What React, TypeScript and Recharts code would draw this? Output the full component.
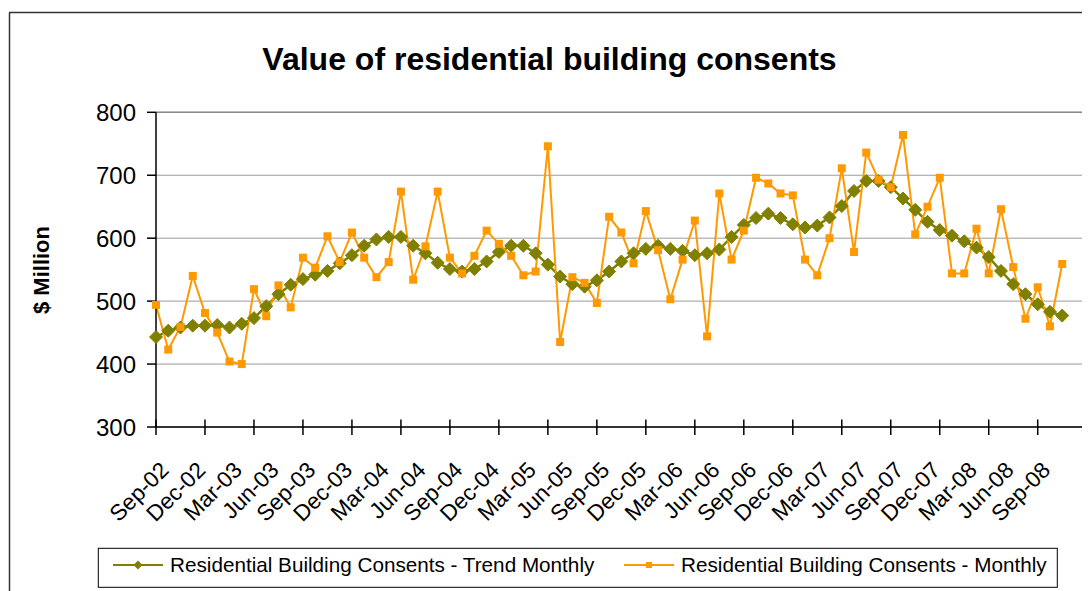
import {
  CartesianGrid,
  Line,
  LineChart,
  ReferenceLine,
  XAxis,
  YAxis,
} from "recharts";

const FONT = '"Liberation Sans", Arial, sans-serif';

// one label per month, Sep-02 .. Jan-09 (last two have no data)
const months = [
  "Sep-02", "Oct-02", "Nov-02", "Dec-02",
  "Jan-03", "Feb-03", "Mar-03", "Apr-03", "May-03", "Jun-03",
  "Jul-03", "Aug-03", "Sep-03", "Oct-03", "Nov-03", "Dec-03",
  "Jan-04", "Feb-04", "Mar-04", "Apr-04", "May-04", "Jun-04",
  "Jul-04", "Aug-04", "Sep-04", "Oct-04", "Nov-04", "Dec-04",
  "Jan-05", "Feb-05", "Mar-05", "Apr-05", "May-05", "Jun-05",
  "Jul-05", "Aug-05", "Sep-05", "Oct-05", "Nov-05", "Dec-05",
  "Jan-06", "Feb-06", "Mar-06", "Apr-06", "May-06", "Jun-06",
  "Jul-06", "Aug-06", "Sep-06", "Oct-06", "Nov-06", "Dec-06",
  "Jan-07", "Feb-07", "Mar-07", "Apr-07", "May-07", "Jun-07",
  "Jul-07", "Aug-07", "Sep-07", "Oct-07", "Nov-07", "Dec-07",
  "Jan-08", "Feb-08", "Mar-08", "Apr-08", "May-08", "Jun-08",
  "Jul-08", "Aug-08", "Sep-08", "Oct-08", "Nov-08", "Dec-08",
  "Jan-09",
];

const trend = [
  443, 453, 458, 461, 461, 462, 458, 464, 473, 492,
  511, 526, 535, 542, 548, 560, 573, 588, 598, 602,
  602, 588, 576, 561, 551, 547, 551, 563, 578, 588,
  588, 576, 558, 539, 527, 523, 533, 547, 563, 576,
  583, 588, 583, 580, 573, 576, 582, 602, 621, 632,
  639, 632, 622, 617, 620, 633, 651, 675, 691, 691,
  681, 663, 645, 626, 613, 604, 595, 585, 570, 548,
  527, 511, 495, 483, 477,
];

const monthly = [
  494, 423, 459, 540, 481, 450, 404, 400, 519, 476,
  525, 490, 569, 553, 603, 562, 609, 569, 538, 562,
  674, 534, 587, 674, 569, 544, 572, 612, 591, 572,
  541, 547, 746, 435, 538, 529, 497, 634, 609, 560,
  643, 581, 503, 566, 628, 444, 671, 566, 612, 696,
  687, 671, 668, 566, 541, 600, 711, 578, 736, 693,
  681, 764, 606, 650, 696, 544, 544, 615, 544, 646,
  554, 472, 522, 460, 559,
];

const yTicks = [300, 400, 500, 600, 700, 800];

const TREND_LABEL = "Residential Building Consents - Trend Monthly";
const MONTHLY_LABEL = "Residential Building Consents - Monthly";

const OLIVE = "#808000";
const ORANGE = "#FF9900";

const data = months.map((month, i) => ({
  month,
  trend: i < trend.length ? trend[i] : null,
  monthly: i < monthly.length ? monthly[i] : null,
}));

const Diamond = (props: any) => {
  const { cx, cy, index } = props;
  if (cx == null || cy == null) return <g key={`td-${index}`} />;
  const r = 6.5;
  return (
    <polygon
      key={`td-${index}`}
      points={`${cx},${cy - r} ${cx + r},${cy} ${cx},${cy + r} ${cx - r},${cy}`}
      fill={OLIVE}
      stroke={OLIVE}
    />
  );
};

const Square = (props: any) => {
  const { cx, cy, index } = props;
  if (cx == null || cy == null) return <g key={`ms-${index}`} />;
  return (
    <rect
      key={`ms-${index}`}
      x={cx - 4}
      y={cy - 4}
      width={8}
      height={8}
      fill={ORANGE}
    />
  );
};

// tick marks every 4 categories, labels every 3 (as in the source)
const MonthTick = (props: any) => {
  const { x, y, index, payload } = props;
  const mark = index % 4 === 0;
  const label = index % 3 === 0 && index < trend.length;
  return (
    <g transform={`translate(${x},${y})`}>
      {mark && <line x1={0} x2={0} y1={-7.5} y2={8} stroke="#000" strokeWidth={1.5} />}
      {label && (
        <text
          transform="translate(14,44.5) rotate(-45)"
          textAnchor="end"
          fontSize={22.5}
          fontFamily={FONT}
          fill="#000"
        >
          {payload.value}
        </text>
      )}
    </g>
  );
};

export default function App() {
  return (
    <div
      style={{
        position: "relative",
        width: 1082,
        height: 583,
        overflow: "hidden",
        fontFamily: FONT,
        background: "#fff",
      }}
    >
      <LineChart
        width={1082}
        height={583}
        data={data}
        margin={{ top: 104.3, right: 3.3, left: 0, bottom: 0 }}
      >
        <CartesianGrid horizontal vertical={false} stroke="#9c9c9c" />
        <XAxis
          dataKey="month"
          interval={0}
          height={164}
          tickSize={0}
          tickMargin={0}
          tickLine={false}
          axisLine={{ stroke: "#000", strokeWidth: 1.5 }}
          tick={<MonthTick />}
        />
        <YAxis
          type="number"
          domain={[300, 800]}
          ticks={yTicks}
          interval={0}
          width={148}
          tickSize={9}
          tickMargin={11}
          axisLine={{ stroke: "#000", strokeWidth: 1.5 }}
          tickLine={{ stroke: "#000", strokeWidth: 1.5 }}
          tick={{ fontSize: 24, fill: "#000", fontFamily: FONT }}
        />
        <ReferenceLine y={800} stroke="#888" strokeWidth={1.5} />
        <ReferenceLine x={months[months.length - 1]} stroke="#888" strokeWidth={1.5} />
        <Line
          dataKey="trend"
          name={TREND_LABEL}
          stroke={OLIVE}
          strokeWidth={2.5}
          dot={Diamond}
          activeDot={false}
          isAnimationActive={false}
        />
        <Line
          dataKey="monthly"
          name={MONTHLY_LABEL}
          stroke={ORANGE}
          strokeWidth={2}
          dot={Square}
          activeDot={false}
          isAnimationActive={false}
        />
      </LineChart>

      <svg
        width={1082}
        height={583}
        style={{ position: "absolute", left: 0, top: 0, pointerEvents: "none" }}
      >
        <line x1={1.5} y1={4.5} x2={1.5} y2={583} stroke="#333" strokeWidth={1.5} />
        <line x1={1} y1={4.5} x2={1082} y2={4.5} stroke="#333" strokeWidth={1.5} />
        <text
          x={541.5}
          y={62}
          textAnchor="middle"
          fontSize={32}
          fontWeight="bold"
          fontFamily={FONT}
          fill="#000"
        >
          Value of residential building consents
        </text>
        <text
          transform="translate(41,262) rotate(-90)"
          textAnchor="middle"
          fontSize={22}
          fontWeight="bold"
          fontFamily={FONT}
          fill="#000"
        >
          $ Million
        </text>
        <rect x={90.3} y={540.3} width={959} height={39} fill="#fff" stroke="#000" strokeWidth={1} />
        <line x1={105} x2={155} y1={557} y2={557} stroke={OLIVE} strokeWidth={2} />
        <polygon points="130,552.5 134.5,557 130,561.5 125.5,557" fill={OLIVE} />
        <text x={162} y={564} fontSize={20.7} fontFamily={FONT} fill="#000">
          {TREND_LABEL}
        </text>
        <line x1={616} x2={666} y1={557} y2={557} stroke={ORANGE} strokeWidth={2} />
        <rect x={638} y={554} width={6} height={6} fill={ORANGE} />
        <text x={673} y={564} fontSize={20.7} fontFamily={FONT} fill="#000">
          {MONTHLY_LABEL}
        </text>
      </svg>
    </div>
  );
}
